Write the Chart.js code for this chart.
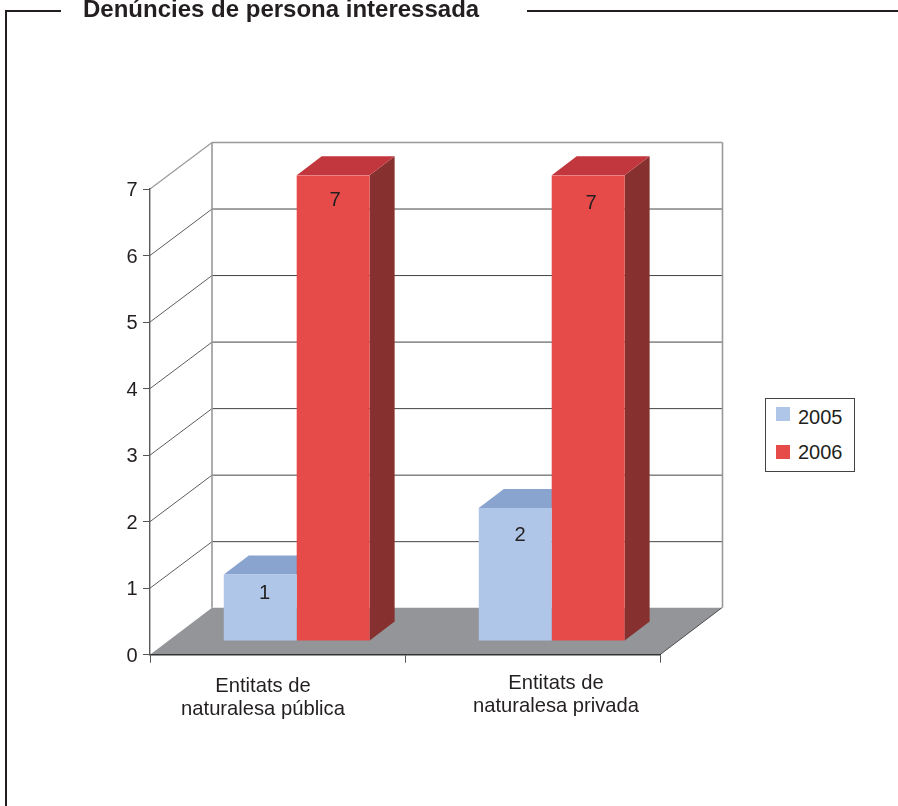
<!DOCTYPE html>
<html lang="ca">
<head>
  <meta charset="UTF-8">
  <title>Denúncies de persona interessada</title>
  <script src="https://cdn.jsdelivr.net/npm/chart.js"></script>
  <style>
    html, body { margin: 0; padding: 0; background: #fff; overflow: hidden; }
    body { width: 898px; height: 806px; position: relative; font-family: "Liberation Sans", Arial, sans-serif; color: #231f20; }
    canvas { position: absolute; left: 0; top: 0; }
    .rule { position: absolute; background: #231f20; }
    #title { position: absolute; left: 83px; top: -5px; font-size: 24px; line-height: 28px; font-weight: bold; white-space: nowrap; }
    #legend { position: absolute; left: 765px; top: 398px; width: 88px; height: 72px; border: 1px solid #444; background: #fff; }
    #legend .swatch { position: absolute; left: 10px; width: 14px; height: 14px; }
    #legend .name { position: absolute; left: 32px; font-size: 20px; line-height: 22px; }
  </style>
</head>
<body>
  <canvas id="chart" width="898" height="806"></canvas>
  <div class="rule" style="left:5px;top:10px;width:2px;height:796px"></div>
  <div class="rule" style="left:5px;top:10px;width:56px;height:2px"></div>
  <div class="rule" style="left:527px;top:10px;width:371px;height:2px"></div>
  <div id="title">Denúncies de persona interessada</div>
  <div id="legend"></div>
  <script>
    const categories = [["Entitats de", "naturalesa pública"], ["Entitats de", "naturalesa privada"]];
    const years = ["2005", "2006"];
    const values2005 = [1, 2];
    const values2006 = [7, 7];
    const yMax = 7;

    // the picture nudges these by hand, they are not centred on the bars
    const categoryNudge = [[-14.5, 1], [23.5, -2]];
    const valueNudge = [[[4.5, 19], [5, 27.5]], [[2, 25.5], [3, 28.5]]];

    const wallDepth = { x: 62, y: -47 };
    const barShift = { x: 19.2, y: -13.7 };
    const barDepth = { x: 25, y: -19 };
    const barColors = [
      { front: "#b0c6e8", top: "#8aa4d0", side: "#6f86ad" },
      { front: "#e64b4a", top: "#c1373d", side: "#86302f" }
    ];

    Chart.defaults.font.family = '"Liberation Sans", Arial, sans-serif';
    Chart.defaults.font.size = 20;
    Chart.defaults.color = "#231f20";

    function poly(ctx, pts, fill) {
      ctx.beginPath();
      pts.forEach((p, i) => i ? ctx.lineTo(p[0], p[1]) : ctx.moveTo(p[0], p[1]));
      ctx.closePath();
      ctx.fillStyle = fill;
      ctx.fill();
    }

    function line(ctx, x1, y1, x2, y2, color, width) {
      ctx.beginPath();
      ctx.moveTo(x1, y1);
      ctx.lineTo(x2, y2);
      ctx.strokeStyle = color;
      ctx.lineWidth = width;
      ctx.stroke();
    }

    const walls = {
      id: "walls",
      beforeDraw(chart) {
        const { ctx, chartArea: a, scales: { y } } = chart;
        const dx = wallDepth.x, dy = wallDepth.y;
        ctx.save();
        poly(ctx, [[a.left, a.bottom], [a.right, a.bottom], [a.right + dx, a.bottom + dy], [a.left + dx, a.bottom + dy]], "#939598");
        y.ticks.forEach(t => {
          const py = y.getPixelForValue(t.value);
          if (t.value > 0 && t.value < yMax) {
            line(ctx, a.left + dx, py + dy + 0.5, a.right + dx, py + dy + 0.5, "#444", 1);
            line(ctx, a.left, py, a.left + dx, py + dy + 0.5, "#333", 0.8);
          }
        });
        // frame of the back wall
        line(ctx, a.left + dx, a.top + dy + 0.5, a.left + dx, a.bottom + dy, "#98999b", 1.6);
        line(ctx, a.right + dx + 0.5, a.top + dy + 0.5, a.right + dx + 0.5, a.bottom + dy, "#98999b", 1.6);
        line(ctx, a.left + dx, a.top + dy + 0.5, a.right + dx + 0.5, a.top + dy + 0.5, "#98999b", 1.6);
        line(ctx, a.left, a.top, a.left + dx, a.top + dy + 0.5, "#98999b", 1.2);
        line(ctx, a.right, a.bottom, a.right + dx, a.bottom + dy, "#333", 0.8);
        ctx.restore();
      }
    };

    const bars3d = {
      id: "bars3d",
      beforeDatasetsDraw(chart) {
        const { ctx } = chart;
        ctx.save();
        ctx.translate(barShift.x, barShift.y);
        const dx = barDepth.x, dy = barDepth.y;
        chart.data.datasets.forEach((ds, i) => {
          chart.getDatasetMeta(i).data.forEach(bar => {
            const l = bar.x - bar.width / 2, r = bar.x + bar.width / 2;
            poly(ctx, [[r, bar.y], [r + dx, bar.y + dy], [r + dx, bar.base + dy], [r, bar.base]], barColors[i].side);
            poly(ctx, [[l, bar.y], [r, bar.y], [r + dx, bar.y + dy], [l + dx, bar.y + dy]], barColors[i].top);
          });
        });
      },
      afterDatasetsDraw(chart) {
        const { ctx, scales: { x } } = chart;
        ctx.restore();
        ctx.save();
        ctx.fillStyle = "#231f20";
        ctx.font = '20.2px "Liberation Sans", Arial, sans-serif';
        ctx.textAlign = "center";
        ctx.textBaseline = "middle";
        chart.data.datasets.forEach((ds, i) => {
          chart.getDatasetMeta(i).data.forEach((bar, j) => {
            const n = valueNudge[i][j];
            ctx.fillText(ds.data[j], bar.x + barShift.x + n[0], bar.y + barShift.y + n[1]);
          });
        });
        categories.forEach((lines, j) => {
          const cx = x.getPixelForValue(j) + categoryNudge[j][0];
          lines.forEach((s, k) => ctx.fillText(s, cx, 685 + k * 23 + categoryNudge[j][1]));
        });
        ctx.restore();
      }
    };

    const chart = new Chart(document.getElementById("chart"), {
      type: "bar",
      data: {
        labels: categories,
        datasets: [
          { label: years[0], data: values2005, backgroundColor: barColors[0].front, borderWidth: 0 },
          { label: years[1], data: values2006, backgroundColor: barColors[1].front, borderWidth: 0 }
        ]
      },
      options: {
        responsive: false,
        animation: false,
        events: [],
        barPercentage: 1,
        categoryPercentage: 0.572,
        layout: { padding: { left: 100, top: 189, right: 238, bottom: 91.3 } },
        plugins: { legend: { display: false }, tooltip: { enabled: false } },
        scales: {
          x: {
            afterFit(s) { s.height = 60; },
            ticks: { display: false },
            grid: { drawOnChartArea: false, tickLength: 8, color: "#555", lineWidth: 1 },
            border: { color: "#333", width: 1.4 }
          },
          y: {
            min: 0,
            max: yMax,
            afterFit(s) { s.width = 50; },
            ticks: { stepSize: 1, padding: 5.5, labelOffset: 1.5 },
            grid: { drawOnChartArea: false, tickLength: 7, color: "#555", lineWidth: 1 },
            border: { color: "#58595b", width: 1.4 }
          }
        }
      },
      plugins: [walls, bars3d]
    });

    // legend from the same datasets, as a box of its own
    const legend = document.getElementById("legend");
    chart.data.datasets.forEach((ds, i) => {
      const swatch = document.createElement("div");
      swatch.className = "swatch";
      swatch.style.top = (8 + i * 38) + "px";
      swatch.style.background = ds.backgroundColor;
      const name = document.createElement("div");
      name.className = "name";
      name.style.top = (7 + i * 35) + "px";
      name.textContent = ds.label;
      legend.append(swatch, name);
    });
  </script>
</body>
</html>
